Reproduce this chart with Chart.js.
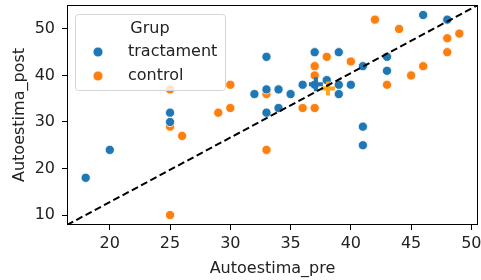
<!DOCTYPE html>
<html>
<head>
<meta charset="utf-8">
<script src="https://cdn.jsdelivr.net/npm/chart.js@4/dist/chart.umd.min.js"></script>
<style>
  html, body { margin: 0; padding: 0; background: #fff; }
</style>
</head>
<body>
<canvas id="c" width="481" height="280"></canvas>
<script>
// dades llegides del gràfic
const grups = ["tractament", "control"];
const tractPre  = [18, 20, 25, 25, 32, 33, 33, 33, 34, 34, 35, 36, 37, 37, 38, 39, 39, 39, 40, 41, 41, 41, 43, 43, 46, 48];
const tractPost = [18, 24, 32, 30, 36, 44, 37, 32, 37, 33, 36, 38, 45, 38, 39, 45, 38, 36, 38, 42, 29, 25, 44, 41, 53, 52];
const ctrlPre   = [25, 25, 26, 25, 29, 30, 30, 33, 33, 36, 37, 37, 37, 38, 40, 42, 43, 44, 45, 46, 48, 48, 49];
const ctrlPost  = [37, 29, 27, 10, 32, 33, 38, 36, 24, 33, 33, 42, 40, 44, 43, 52, 38, 50, 40, 42, 48, 45, 49];
const mitjanaTract = [37.1, 38.1];
const mitjanaCtrl  = [38.1, 37.2];
const xLim = [16.45, 50.55];
const yLim = [7.85, 55.15];
const xTicks = [20, 25, 30, 35, 40, 45, 50];
const yTicks = [10, 20, 30, 40, 50];

const BLAU = "#1f77b4", TARONJA = "#ff7f0e";
const FONT = "'DejaVu Sans', sans-serif";

const punts = (xs, ys) => xs.map((x, i) => ({ x, y: ys[i] }));

// marc dels eixos (les quatre vores, com matplotlib)
const marc = {
  id: "marc",
  afterDatasetsDraw(chart) {
    const { ctx, chartArea: a } = chart;
    ctx.save();
    ctx.strokeStyle = "#000";
    ctx.lineWidth = 1;
    ctx.strokeRect(Math.round(a.left) + 0.5, Math.round(a.top) + 0.5,
                   Math.round(a.right - a.left) - 1, Math.round(a.bottom - a.top) - 1);
    ctx.restore();
  }
};

// llegenda dins l'àrea, amb títol "Grup"
const llegenda = {
  id: "llegenda",
  afterDraw(chart) {
    const { ctx } = chart;
    const x = 75, y = 14, w = 150, h = 76;
    ctx.save();
    ctx.beginPath();
    ctx.roundRect(x + 0.5, y + 0.5, w, h, 3);
    ctx.fillStyle = "rgba(255,255,255,0.8)";
    ctx.fill();
    ctx.strokeStyle = "#d5d5d5";
    ctx.lineWidth = 1;
    ctx.stroke();

    ctx.fillStyle = "#222";
    ctx.font = `16px ${FONT}`;
    ctx.textBaseline = "middle";
    ctx.textAlign = "center";
    ctx.fillText("Grup", x + w / 2, y + 15);

    const colors = [BLAU, TARONJA];
    grups.forEach((g, i) => {
      const yy = y + 38 + i * 24;
      ctx.beginPath();
      ctx.arc(x + 23, yy, 5, 0, Math.PI * 2);
      ctx.fillStyle = colors[i];
      ctx.fill();
      ctx.strokeStyle = "#fff";
      ctx.lineWidth = 0.8;
      ctx.stroke();
      ctx.fillStyle = "#222";
      ctx.textAlign = "left";
      ctx.fillText(g, x + 53, yy);
    });
    ctx.restore();
  }
};

new Chart(document.getElementById("c"), {
  type: "scatter",
  data: {
    datasets: [
      {
        type: "line",
        data: [{ x: xLim[0], y: yLim[0] }, { x: xLim[1], y: yLim[1] }],
        borderColor: "#000",
        borderWidth: 2,
        borderDash: [7, 3.5],
        pointRadius: 0,
        fill: false,
        order: 0
      },
      {
        data: [{ x: mitjanaCtrl[0], y: mitjanaCtrl[1] }],
        pointStyle: "cross",
        pointRadius: 7,
        borderColor: "#ffa51a",
        borderWidth: 4,
        order: 1
      },
      {
        data: [{ x: mitjanaTract[0], y: mitjanaTract[1] }],
        pointStyle: "cross",
        pointRadius: 7,
        borderColor: BLAU,
        borderWidth: 4,
        order: 2
      },
      {
        label: grups[0],
        data: punts(tractPre, tractPost),
        backgroundColor: BLAU,
        borderColor: "#fff",
        borderWidth: 0.8,
        pointRadius: 4.6,
        order: 3
      },
      {
        label: grups[1],
        data: punts(ctrlPre, ctrlPost),
        backgroundColor: TARONJA,
        borderColor: "#fff",
        borderWidth: 0.8,
        pointRadius: 4.6,
        order: 4
      }
    ]
  },
  options: {
    responsive: false,
    animation: false,
    events: [],
    layout: { autoPadding: false, padding: { top: 5, right: 3, left: 0, bottom: 0 } },
    plugins: { legend: { display: false }, tooltip: { enabled: false } },
    scales: {
      x: {
        type: "linear",
        min: xLim[0],
        max: xLim[1],
        afterBuildTicks: s => { s.ticks = xTicks.map(v => ({ value: v })); },
        afterFit: s => { s.height = 55; s.paddingLeft = 0; s.paddingRight = 0; },
        ticks: { color: "#222", font: { family: FONT, size: 16 }, padding: 4, maxRotation: 0 },
        grid: { display: true, drawOnChartArea: false, drawTicks: true, tickLength: 5, tickColor: "#000" },
        border: { display: false },
        title: { display: true, text: "Autoestima_pre", color: "#222", font: { family: FONT, size: 16 }, padding: { top: 4, bottom: 2 } }
      },
      y: {
        type: "linear",
        min: yLim[0],
        max: yLim[1],
        afterBuildTicks: s => { s.ticks = yTicks.map(v => ({ value: v })); },
        afterFit: s => { s.width = 67; s.paddingTop = 0; s.paddingBottom = 0; },
        ticks: { color: "#222", font: { family: FONT, size: 16 }, padding: 7 },
        grid: { display: true, drawOnChartArea: false, drawTicks: true, tickLength: 5, tickColor: "#000" },
        border: { display: false },
        title: { display: true, text: "Autoestima_post", color: "#222", font: { family: FONT, size: 16 }, padding: { top: 10, bottom: 4 } }
      }
    }
  },
  plugins: [marc, llegenda]
});
</script>
</body>
</html>
